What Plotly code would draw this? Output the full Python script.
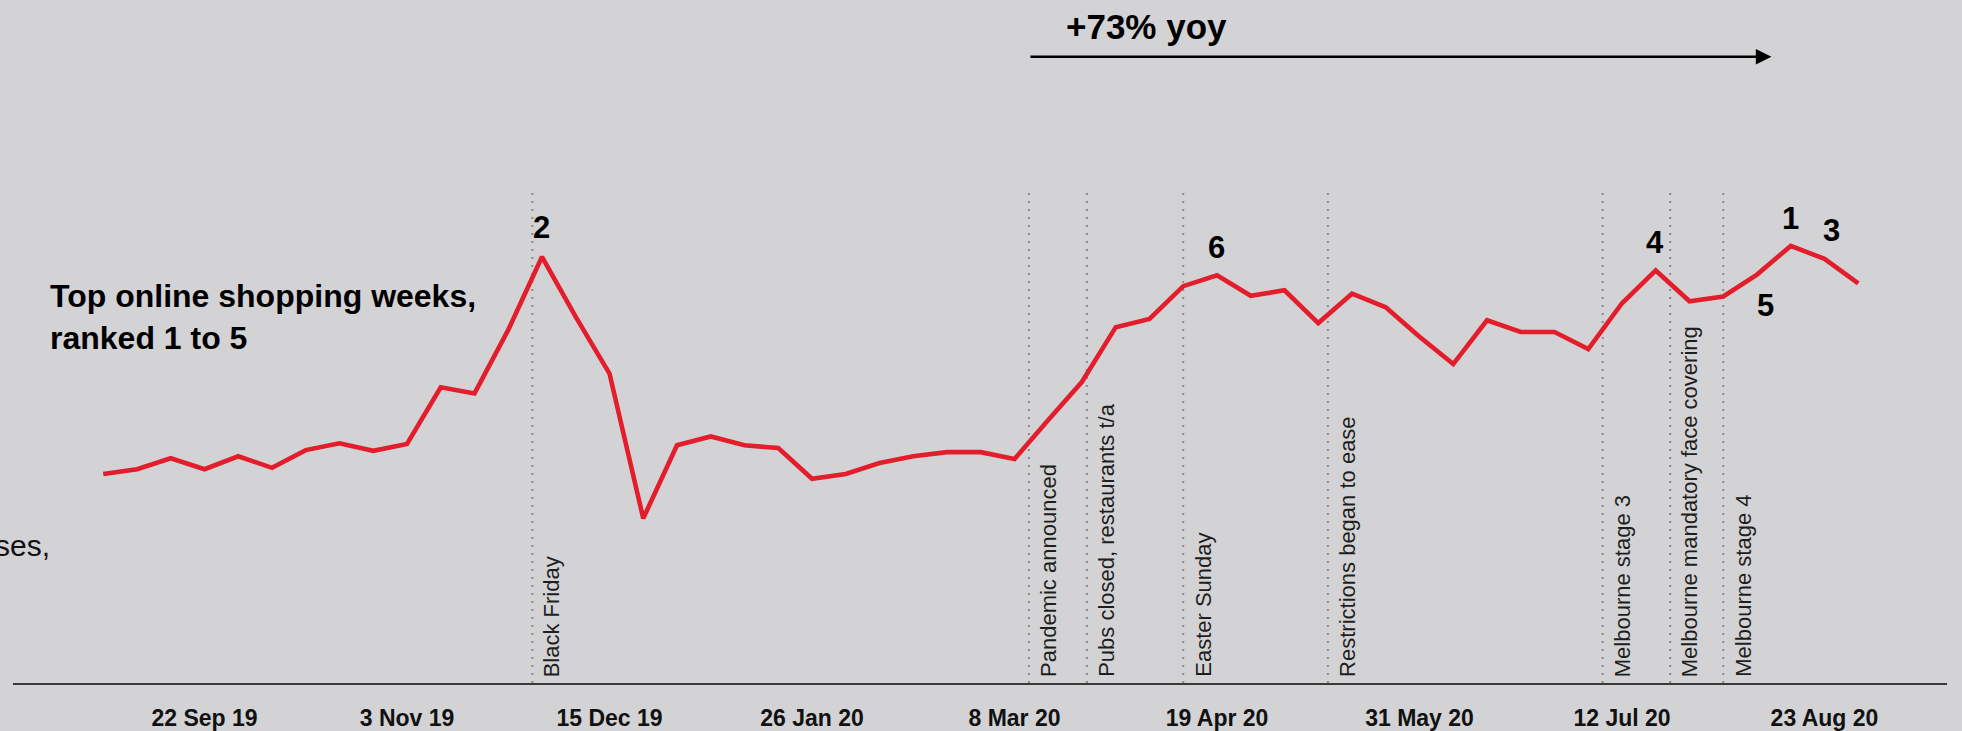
import datetime as dt
import plotly.graph_objects as go

# ---------------- data ----------------
week_start = [
    "2019-09-01", "2019-09-08", "2019-09-15", "2019-09-22", "2019-09-29", "2019-10-06",
    "2019-10-13", "2019-10-20", "2019-10-27", "2019-11-03", "2019-11-10", "2019-11-17",
    "2019-11-24", "2019-12-01", "2019-12-08", "2019-12-15", "2019-12-22", "2019-12-29",
    "2020-01-05", "2020-01-12", "2020-01-19", "2020-01-26", "2020-02-02", "2020-02-09",
    "2020-02-16", "2020-02-23", "2020-03-01", "2020-03-08", "2020-03-15", "2020-03-22",
    "2020-03-29", "2020-04-05", "2020-04-12", "2020-04-19", "2020-04-26", "2020-05-03",
    "2020-05-10", "2020-05-17", "2020-05-24", "2020-05-31", "2020-06-07", "2020-06-14",
    "2020-06-21", "2020-06-28", "2020-07-05", "2020-07-12", "2020-07-19", "2020-07-26",
    "2020-08-02", "2020-08-09", "2020-08-16", "2020-08-23", "2020-08-30",
]
online_index = [
    30.6, 31.3, 32.9, 31.3, 33.2, 31.5, 34.1, 35.1, 34.0, 35.0, 43.3, 42.4,
    51.7, 62.4, 53.6, 45.3, 24.1, 34.8, 36.1, 34.8, 34.4, 29.9, 30.6, 32.2,
    33.2, 33.8, 33.8, 32.8, 38.5, 44.1, 52.1, 53.3, 58.1, 59.7, 56.7, 57.5,
    52.7, 57.0, 55.0, 50.7, 46.7, 53.1, 51.4, 51.4, 48.9, 55.6, 60.4, 55.9,
    56.6, 59.8, 64.0, 62.1, 58.5,
]

tick_dates = ["2019-09-22", "2019-11-03", "2019-12-15", "2020-01-26", "2020-03-08",
              "2020-04-19", "2020-05-31", "2020-07-12", "2020-08-23"]
tick_labels = ["22 Sep 19", "3 Nov 19", "15 Dec 19", "26 Jan 20", "8 Mar 20",
               "19 Apr 20", "31 May 20", "12 Jul 20", "23 Aug 20"]

event_dates = ["2019-11-29", "2020-03-11", "2020-03-23", "2020-04-12", "2020-05-12",
               "2020-07-08", "2020-07-22", "2020-08-02"]
event_labels = ["Black Friday", "Pandemic announced", "Pubs closed, restaurants t/a",
                "Easter Sunday", "Restrictions began to ease", "Melbourne stage 3",
                "Melbourne mandatory face covering", "Melbourne stage 4"]
event_line_top = 71.8

rank_labels = ["1", "2", "3", "4", "5", "6"]
rank_weeks = ["2020-08-16", "2019-12-01", "2020-08-23", "2020-07-19", "2020-08-09", "2020-04-19"]

yoy_label = "+73% yoy"
yoy_arrow_start = "2020-03-11"
yoy_arrow_end = "2020-08-12"
yoy_arrow_level = 91.7

# ---------------- styling ----------------
BG = "#D3D3D5"
RED = "#E31D2B"
W, H = 1962, 731
ML, MR, MT, MB = 13, 15, 0, 42
PW, PH = W - ML - MR, H - MT - MB

px_per_day = 33.75 / 7
anchor = dt.datetime(2019, 9, 22)
anchor_px = 204.5
x_min = anchor - dt.timedelta(days=(anchor_px - ML) / px_per_day)
x_max = anchor + dt.timedelta(days=(W - MR - anchor_px) / px_per_day)

def paper_x(px):
    return (px - ML) / PW

def paper_y(py):
    return (MT + PH - py) / PH

val_by_week = dict(zip(week_start, online_index))

fig = go.Figure()
fig.add_trace(go.Scatter(
    x=week_start, y=online_index, mode="lines",
    line=dict(color=RED, width=4.6), hoverinfo="x+y", showlegend=False,
))

shapes = []
annotations = []
for d, lab in zip(event_dates, event_labels):
    shapes.append(dict(type="line", xref="x", yref="y", x0=d, x1=d, y0=0, y1=event_line_top,
                       line=dict(color="#8A8A8A", width=2, dash="2px,6px"), layer="below"))
    annotations.append(dict(x=d, y=0, xref="x", yref="y", text=lab, showarrow=False,
                            textangle=-90, xanchor="left", yanchor="bottom",
                            xshift=5, yshift=4,
                            font=dict(family="Liberation Sans, Arial", size=22, color="#1E1E1E")))

rank_shift = {"1": (0, 27), "2": (-1, 29), "3": (7, 28), "4": (-1, 28), "5": (8, -31), "6": (-1, 28)}
for lab, wk in zip(rank_labels, rank_weeks):
    sx, sy = rank_shift[lab]
    annotations.append(dict(x=wk, y=val_by_week[wk], xref="x", yref="y", text=lab,
                            showarrow=False, xanchor="center", yanchor="middle",
                            xshift=sx, yshift=sy,
                            font=dict(family="Liberation Sans, Arial",
                                      size=31, color="#000000", weight="bold")))

annotations.append(dict(x=paper_x(48), y=paper_y(320), xref="paper", yref="paper",
                        text="Top online shopping weeks,<br>ranked 1 to 5", showarrow=False,
                        xanchor="left", yanchor="middle", align="left",
                        font=dict(family="Liberation Sans, Arial", size=32, color="#000000",
                                  weight="bold")))

annotations.append(dict(x=paper_x(1064), y=paper_y(27), xref="paper", yref="paper",
                        text=yoy_label, showarrow=False, xanchor="left", yanchor="middle",
                        font=dict(family="Liberation Sans, Arial",
                                  size=35, color="#000000", weight="bold")))

annotations.append(dict(x=yoy_arrow_end, y=yoy_arrow_level, xref="x", yref="y",
                        ax=yoy_arrow_start, ay=yoy_arrow_level, axref="x", ayref="y",
                        text="", showarrow=True, arrowhead=2, arrowsize=1.25,
                        arrowwidth=2.5, arrowcolor="#000000", standoff=0, startstandoff=0))

annotations.append(dict(x=paper_x(52), y=paper_y(550), xref="paper", yref="paper",
                        text="ses,", showarrow=False, xanchor="right", yanchor="middle",
                        font=dict(family="Liberation Sans, Arial", size=30, color="#111111")))

fig.update_layout(
    width=W, height=H,
    margin=dict(l=ML, r=MR, t=MT, b=MB, pad=0),
    paper_bgcolor=BG, plot_bgcolor=BG,
    shapes=shapes, annotations=annotations,
    xaxis=dict(type="date", range=[x_min, x_max], showgrid=False, zeroline=False,
               showline=True, linecolor="#3A3A3A", linewidth=2,
               tickmode="array", tickvals=tick_dates, ticktext=tick_labels,
               ticks="outside", ticklen=13, tickcolor="rgba(0,0,0,0)",
               tickfont=dict(family="Liberation Sans, Arial",
                             size=23, color="#111111", weight="bold")),
    yaxis=dict(range=[0, 100], visible=False, showgrid=False, zeroline=False),
    showlegend=False,
)

fig.write_html(
    "out.html",
    config={"displayModeBar": False},
    post_script="document.body.style.margin='0';document.body.style.padding='0';"
                "document.body.style.overflow='hidden';"
                "document.body.style.background='" + BG + "';",
)
